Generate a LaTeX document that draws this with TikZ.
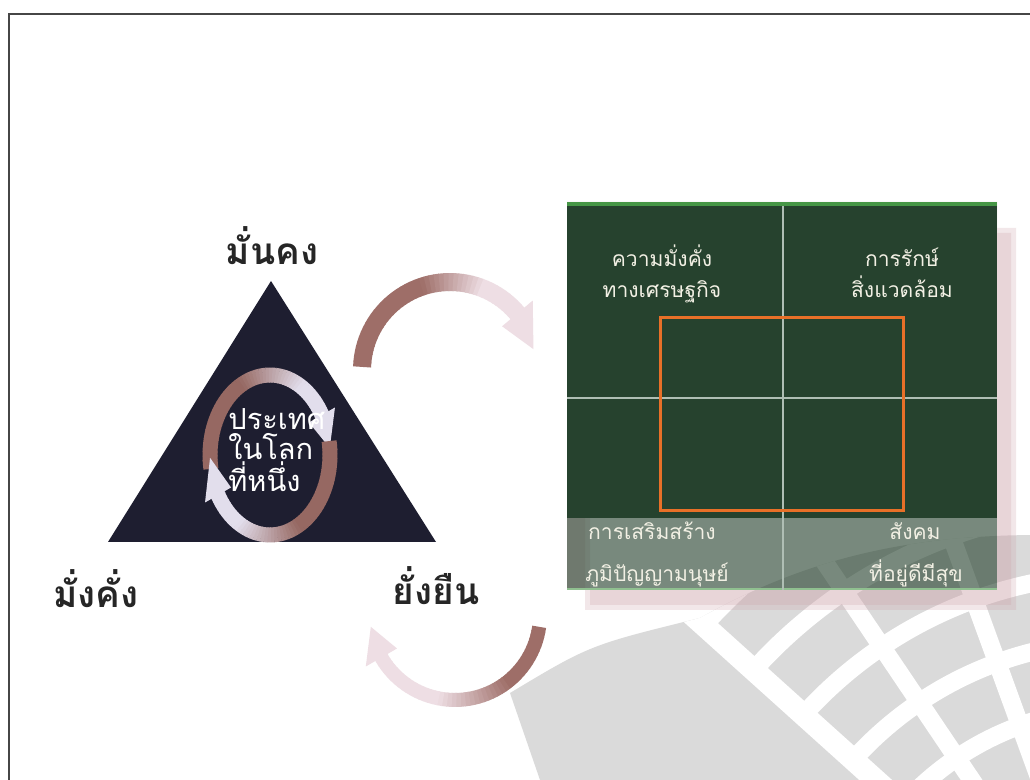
\documentclass[tikz,border=0pt]{standalone}
\usepackage{fontspec}
\newfontfamily\thaifont[Script=Thai]{Loma}
\usetikzlibrary{positioning}
\newcommand\pxu{0.02cm}
\definecolor{trinavy}{RGB}{30,30,48}
\definecolor{arrbrown}{RGB}{158,110,104}
\definecolor{arrpale}{RGB}{238,222,228}
\definecolor{inbrown}{RGB}{150,104,98}
\definecolor{inpale}{RGB}{226,222,236}
\definecolor{boardgreen}{RGB}{38,66,46}
\definecolor{boardedge}{RGB}{70,150,70}
\definecolor{boardline}{RGB}{175,190,180}
\definecolor{boxorange}{RGB}{232,112,40}
\definecolor{chalk}{RGB}{242,240,228}
\definecolor{decogray}{RGB}{218,218,218}
\definecolor{shadowpink}{RGB}{205,160,168}
\definecolor{framegray}{RGB}{70,70,70}
\begin{document}
\begin{tikzpicture}[x=0.02cm, y=0.02cm]
    \tikzstyle{bigword} = [font=\thaifont\bfseries\fontsize{21}{24}\selectfont, text=black!85, anchor=base, inner sep=0pt]
    \tikzstyle{innerword} = [font=\thaifont\fontsize{16.5}{18}\selectfont, text=white, anchor=base west, inner sep=0pt]
    \tikzstyle{chalkword} = [font=\thaifont\fontsize{12}{14}\selectfont, text=chalk, anchor=base, inner sep=0pt]
    \useasboundingbox (0,0) rectangle (1030,780);
    \fill[white] (0,0) rectangle (1030,780);
    \draw[framegray, line width=2*\pxu] (1030,766) -- (9,766) -- (9,0);

    \begin{scope}
        \clip (510,87) .. controls (590,135) .. (700,162) .. controls (800,218) and (900,245) .. (1040,245) -- (1040,0) -- (540,0) -- cycle;
        \fill[decogray] (0,0) rectangle (1030,780);
        \begin{scope}
            \clip (1120,-220) -- (377,449) -- (1100,800) -- (1200,800) -- (1200,-220) -- cycle;
            \foreach \rad in {225,292,...,600}
                \draw[white, line width=18*\pxu] (1120,-220) ++(140:\rad) arc[start angle=140, end angle=30, radius=\rad];
            \foreach \ang in {124,110,...,40}
                \draw[white, line width=18*\pxu] (1120,-220) -- ++(\ang:800);
        \end{scope}
        \draw[white, line width=22*\pxu] (1120,-220) -- ++(138:800);
    \end{scope}

    \fill[shadowpink, opacity=0.25, even odd rule] (585,170) rectangle (1016,552) (567,190) rectangle (997,578);
    \fill[shadowpink, opacity=0.25, even odd rule] (590,175) rectangle (1011,547) (567,190) rectangle (997,578);
    \fill[boardgreen] (567,262) rectangle (997,578);
    \fill[boardgreen, opacity=0.62] (567,190) rectangle (997,262);
    \fill[boardedge] (567,574) rectangle (997,578);
    \fill[boardedge!60!white] (567,190) rectangle (997,192);
    \draw[boardline, line width=1.2*\pxu] (783,190) -- (783,574);
    \draw[boardline, line width=1.2*\pxu] (567,382) -- (997,382);
    \draw[boxorange, line width=3*\pxu] (660,269) rectangle (903,462);

    \fill[trinavy] (271,499) -- (108,238) -- (436,238) -- cycle;
    \begin{scope}[shift={(270,325)}]
        \foreach \ang in {190,187,...,31} {
            \pgfmathsetmacro\mix{max(0,min(100,(\ang-60)*100/60))}
            \draw[inbrown!\mix!inpale, line width=15*\pxu] (\ang:60 and 80) arc[start angle=\ang, delta angle=-3.6, x radius=60, y radius=80];
        }
        \fill[inpale] (30:75 and 95) -- (30:45 and 65) -- (5:60 and 80) -- cycle;
        \foreach \ang in {10,7,...,-149} {
            \pgfmathsetmacro\mix{max(0,min(100,(\ang+120)*100/60))}
            \draw[inbrown!\mix!inpale, line width=15*\pxu] (\ang:60 and 80) arc[start angle=\ang, delta angle=-3.6, x radius=60, y radius=80];
        }
        \fill[inpale] (-150:75 and 95) -- (-150:45 and 65) -- (-178:60 and 80) -- cycle;
    \end{scope}

    \begin{scope}[shift={(450,410)}]
        \foreach \ang in {178,175,...,41} {
            \pgfmathsetmacro\mix{max(0,min(100,(\ang-70)*100/40))}
            \draw[arrbrown!\mix!arrpale, line width=18*\pxu] (\ang:88) arc[start angle=\ang, delta angle=-3.6, radius=88];
        }
        \fill[arrpale] (40:108) -- (40:68) -- (14:86) -- cycle;
    \end{scope}
    \begin{scope}[shift={(455,165)}]
        \foreach \ang in {-8,-11,...,-149} {
            \pgfmathsetmacro\mix{max(0,min(100,(\ang+100)*100/50))}
            \draw[arrbrown!\mix!arrpale, line width=14*\pxu] (\ang:85) arc[start angle=\ang, delta angle=-3.6, radius=85];
        }
        \fill[arrpale] (-150:103) -- (-150:67) -- (-172:85) -- cycle;
    \end{scope}

    \node[bigword] (stable) at (272,515) {มั่นคง};
    \node[bigword] (wealthy) at (96,172) {มั่งคั่ง};
    \node[bigword] (sustain) at (436,175) {ยั่งยืน};
    \node[innerword] (country) at (228,350) {ประเทศ};
    \node[innerword] (world) at (228,320) {ในโลก};
    \node[innerword] (first) at (228,288) {ที่หนึ่ง};

    \node[chalkword] (econ) at (662,513) {ความมั่งคั่ง};
    \node[chalkword] (econb) at (662,482) {ทางเศรษฐกิจ};
    \node[chalkword] (envi) at (902,513) {การรักษ์};
    \node[chalkword] (envib) at (902,482) {สิ่งแวดล้อม};
    \node[chalkword] (human) at (652,240) {การเสริมสร้าง};
    \node[chalkword] (humanb) at (657,198) {ภูมิปัญญามนุษย์};
    \node[chalkword] (society) at (915,240) {สังคม};
    \node[chalkword] (societyb) at (916,198) {ที่อยู่ดีมีสุข};
\end{tikzpicture}
\end{document}
